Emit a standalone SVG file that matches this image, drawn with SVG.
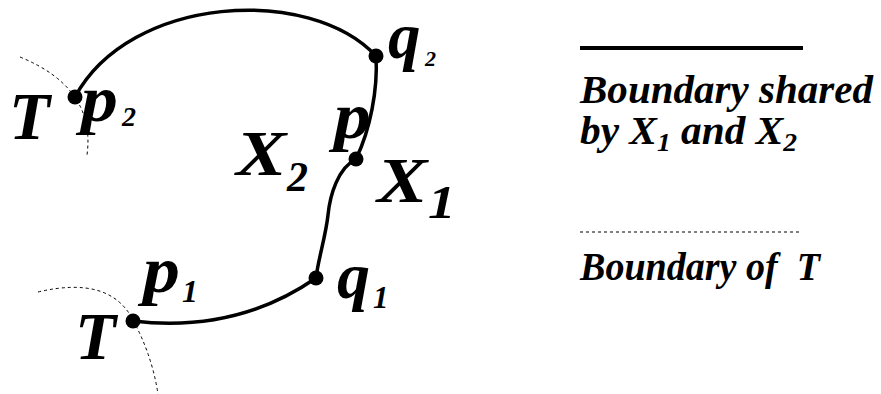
<svg xmlns="http://www.w3.org/2000/svg" width="881" height="394" viewBox="0 0 881 394">
<style>
.b{fill:none;stroke:#000;stroke-width:3.5;stroke-linecap:round}
.d{fill:none;stroke:#000;stroke-width:1;stroke-dasharray:3,3}
.t{font-family:"Liberation Serif","Times New Roman",serif;font-weight:bold;font-style:italic;fill:#000}
</style>
<rect width="881" height="394" fill="#fff"/>
<g id="connectors">
<path class="d" d="M20,57 Q96,88 87,155"/>
<path class="d" d="M38,292 Q110,275 133,320 Q152,355 158,394"/>
<path class="b" d="M75,97 C130,-5 310,-15 376,56"/>
<path class="b" d="M376,56 C378,90 370,130 356,159"/>
<path class="b" d="M356,159 C338,168 330,195 328,215 S318,260 316,278"/>
<path class="b" d="M316,278 C270,310 210,330 133,321"/>
</g>
<g id="p2"><circle cx="75" cy="97" r="7.5"/><text class="t" transform="translate(81,121) scale(1.12,1)" font-size="66">p</text><text class="t" x="122" y="126" font-size="28">2</text></g>
<g id="T2"><text class="t" x="9" y="139" font-size="67">T</text></g>
<g id="q2"><circle cx="376" cy="56" r="7.5"/><text class="t" x="388" y="58" font-size="65">q</text><text class="t" x="425" y="66" font-size="22">2</text></g>
<g id="p"><circle cx="356" cy="159" r="7.5"/><text class="t" transform="translate(334,138) scale(1.12,1)" font-size="66">p</text></g>
<g id="X2"><text class="t" transform="translate(236,175) scale(1.18,1)" font-size="64">X</text><text class="t" x="287" y="191" font-size="42">2</text></g>
<g id="X1"><text class="t" transform="translate(377,202) scale(1.18,1)" font-size="64">X</text><text class="t" transform="translate(428,218) scale(1.2,1)" font-size="46">1</text></g>
<g id="q1"><circle cx="316" cy="278" r="7.5"/><text class="t" x="337" y="298" font-size="66">q</text><text class="t" x="373" y="308" font-size="31">1</text></g>
<g id="p1"><circle cx="133" cy="321" r="7.5"/><text class="t" transform="translate(143,292) scale(1.12,1)" font-size="66">p</text><text class="t" x="182" y="302" font-size="32">1</text></g>
<g id="T1"><text class="t" x="75" y="359" font-size="67">T</text></g>
<g id="legend">
<line x1="580" y1="48" x2="803" y2="48" stroke="#000" stroke-width="4"/>
<text class="t" x="580" y="103" font-size="39" textLength="293" lengthAdjust="spacingAndGlyphs">Boundary shared</text>
<text class="t" x="580" y="144" font-size="39" textLength="217" lengthAdjust="spacingAndGlyphs">by X<tspan font-size="26" dy="7">1</tspan><tspan dy="-7"> and X</tspan><tspan font-size="26" dy="7">2</tspan></text>
<line class="d" x1="580" y1="232" x2="802" y2="232"/>
<text class="t" x="580" y="280" font-size="39" textLength="240" lengthAdjust="spacingAndGlyphs" xml:space="preserve">Boundary of  T</text>
</g>
</svg>
